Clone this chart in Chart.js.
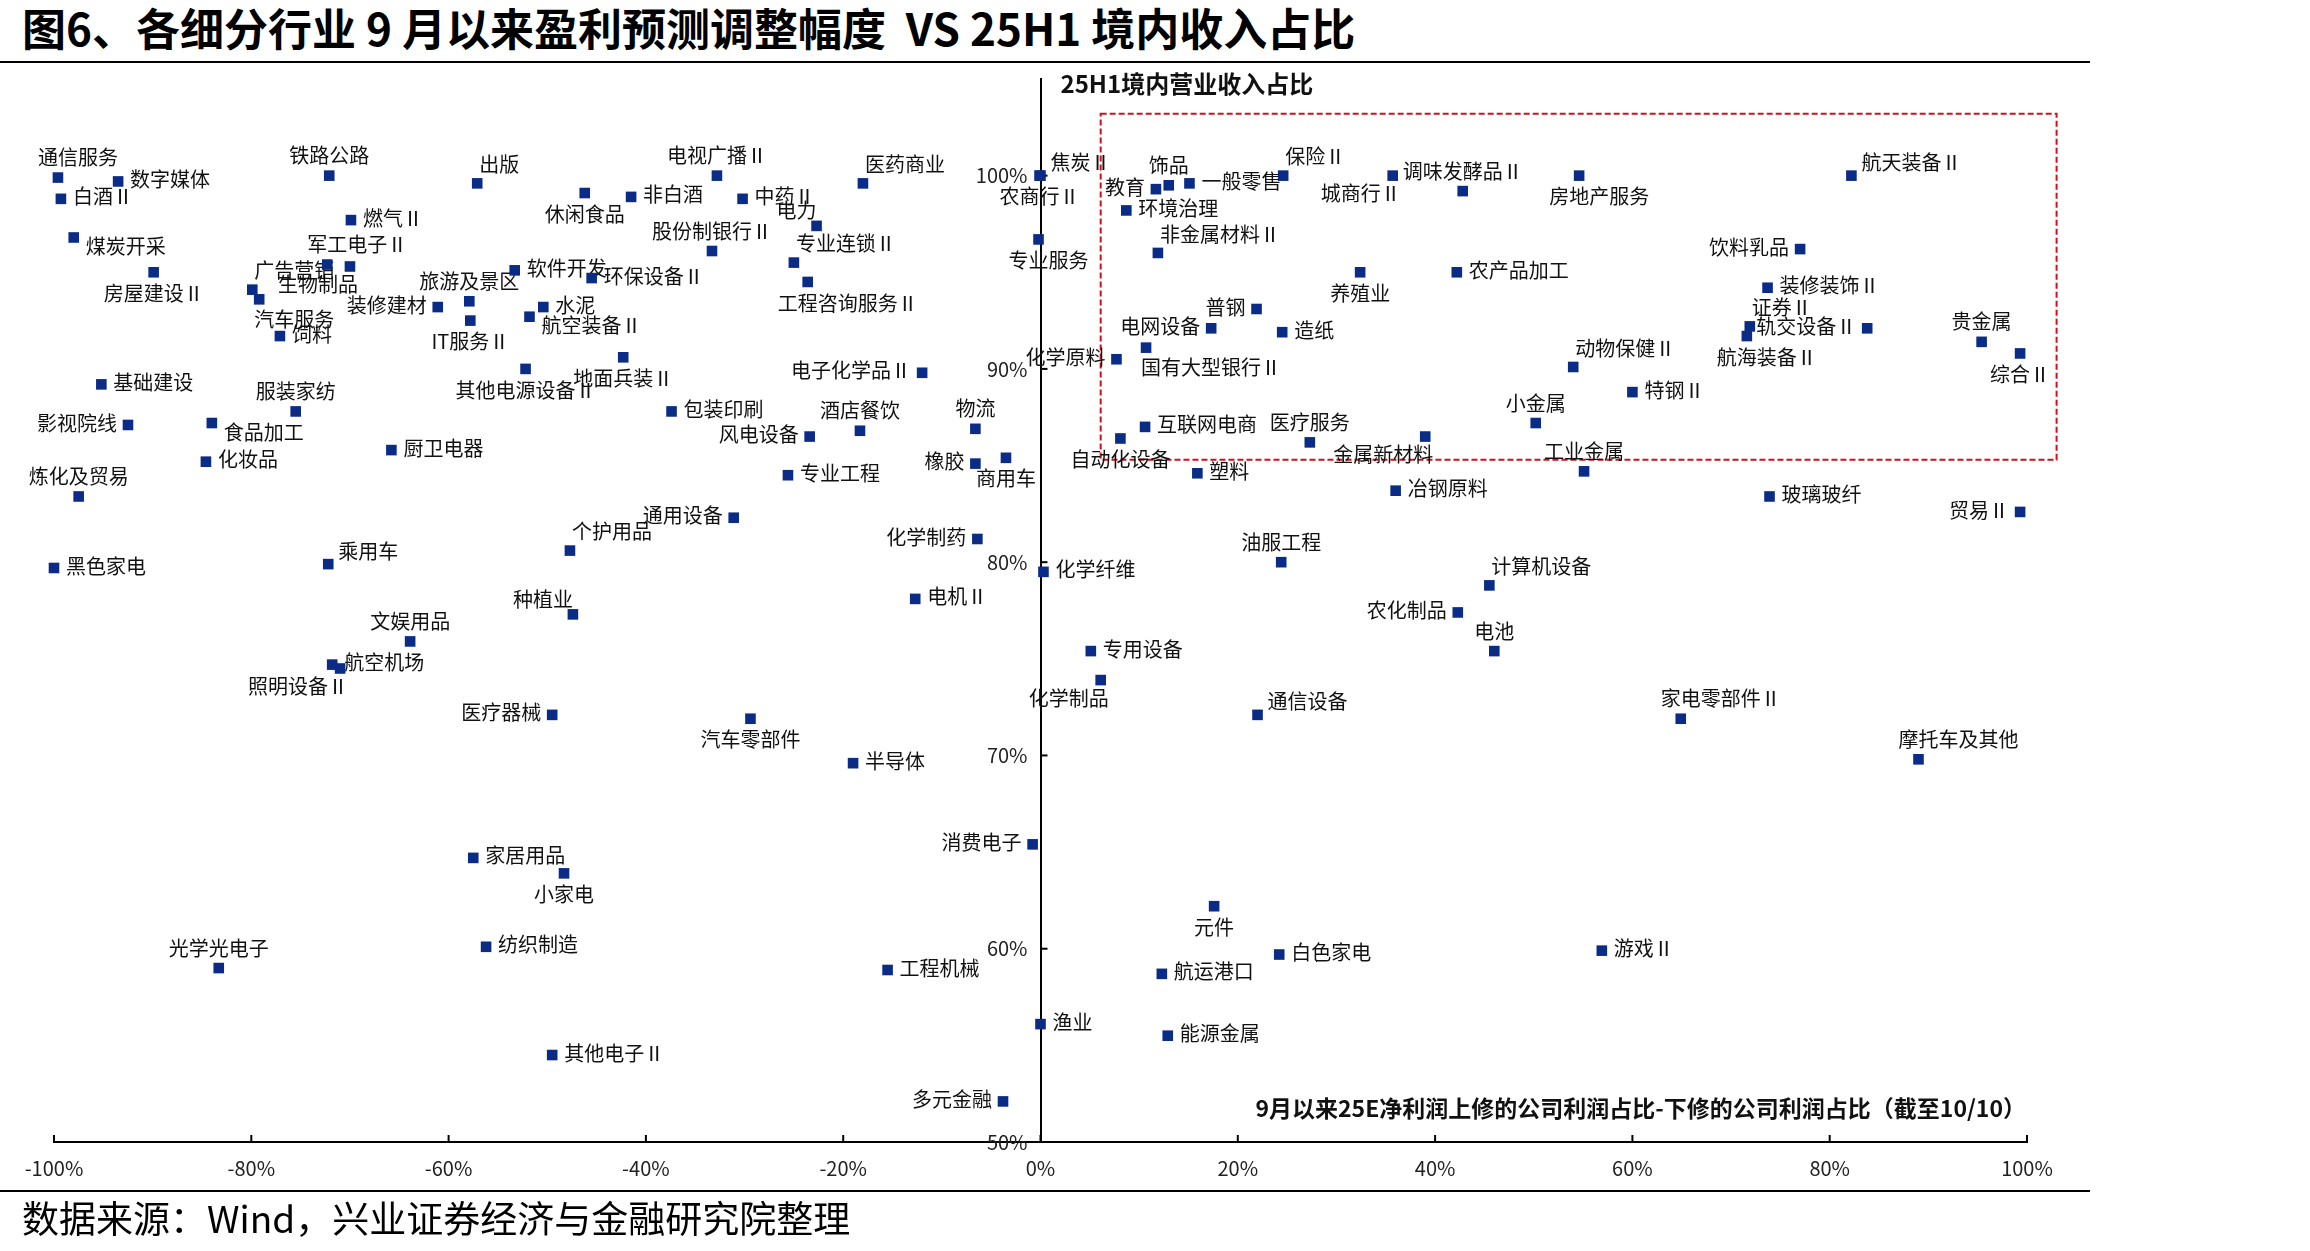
<!DOCTYPE html>
<html lang="zh">
<head>
<meta charset="utf-8">
<title>各细分行业9月以来盈利预测调整幅度 VS 25H1境内收入占比</title>
<script src="https://cdn.jsdelivr.net/npm/chart.js@4.4.1/dist/chart.umd.min.js"></script>
<style>
  html, body { margin: 0; padding: 0; background: #fff; }
  #wrap { position: relative; width: 2310px; height: 1251px; overflow: hidden; font-family: "Noto Sans CJK SC", sans-serif; }
  #title { position: absolute; left: 22px; top: 1px; font-size: 44px; line-height: 52px; font-weight: bold; color: #000; white-space: pre; }
  .rule { position: absolute; left: 0; width: 2090px; height: 2px; background: #000; }
  #source { position: absolute; left: 22px; top: 1195px; font-size: 37px; line-height: 44px; color: #000; white-space: pre; }
  canvas { position: absolute; left: 0; top: 0; }
</style>
</head>
<body>
<div id="wrap">
  <div id="title">图6、各细分行业 9 月以来盈利预测调整幅度  VS 25H1 境内收入占比</div>
  <div class="rule" style="top:61px"></div>
  <canvas id="scatterChart" width="2310" height="1251"></canvas>
  <div class="rule" style="top:1190px"></div>
  <div id="source">数据来源：Wind，兴业证券经济与金融研究院整理</div>
</div>
<script>
// industries, x = 9月以来25E净利润上修-下修占比 (%), y = 25H1境内营业收入占比 (%)
const industries = [
  '通信服务','数字媒体','白酒Ⅱ','铁路公路','出版','电视广播Ⅱ','休闲食品','非白酒','中药Ⅱ','医药商业',
  '焦炭Ⅱ','农商行Ⅱ','饰品','教育','一般零售','保险Ⅱ','环境治理','城商行Ⅱ','调味发酵品Ⅱ','房地产服务',
  '航天装备Ⅱ','燃气Ⅱ','煤炭开采','军工电子Ⅱ','生物制品','广告营销','汽车服务','饲料','电力','股份制银行Ⅱ',
  '专业连锁Ⅱ','工程咨询服务Ⅱ','非金属材料Ⅱ','专业服务','饮料乳品','房屋建设Ⅱ','旅游及景区','软件开发','环保设备Ⅱ','装修建材',
  'IT服务Ⅱ','水泥','航空装备Ⅱ','养殖业','农产品加工','装修装饰Ⅱ','普钢','电网设备','造纸','证券Ⅱ',
  '轨交设备Ⅱ','航海装备Ⅱ','贵金属','综合Ⅱ','化学原料','国有大型银行Ⅱ','动物保健Ⅱ','地面兵装Ⅱ','其他电源设备Ⅱ','电子化学品Ⅱ',
  '基础建设','服装家纺','特钢Ⅱ','小金属','包装印刷','酒店餐饮','物流','影视院线','食品加工','风电设备',
  '互联网电商','医疗服务','自动化设备','厨卫电器','金属新材料','工业金属','化妆品','橡胶','商用车','专业工程',
  '塑料','炼化及贸易','冶钢原料','玻璃玻纤','贸易Ⅱ','通用设备','个护用品','化学制药','油服工程','乘用车',
  '黑色家电','化学纤维','计算机设备','电机Ⅱ','种植业','农化制品','文娱用品','电池','专用设备','航空机场',
  '照明设备Ⅱ','化学制品','通信设备','家电零部件Ⅱ','医疗器械','汽车零部件','半导体','摩托车及其他','消费电子','家居用品',
  '小家电','元件','光学光电子','纺织制造','白色家电','游戏Ⅱ','工程机械','航运港口','渔业','能源金属',
  '其他电子Ⅱ','多元金融'
];

const revision = [
  -99.6, -93.5, -99.3, -72.1, -57.1, -32.8, -46.2, -41.5, -30.2, -18.0,
  0.0, -0.1, 13.0, 11.7, 15.1, 24.6, 8.7, 35.7, 42.8, 54.6,
  82.2, -69.9, -98.0, -72.3, -70.0, -79.9, -79.2, -77.1, -22.7, -33.3,
  -25.0, -23.6, 11.9, -0.2, 77.0, -89.9, -57.9, -53.3, -45.5, -61.1,
  -57.8, -50.4, -51.8, 32.4, 42.2, 73.7, 21.9, 17.3, 24.5, 71.9,
  83.8, 71.6, 95.4, 99.3, 7.7, 10.7, 54.0, -42.3, -52.2, -12.0,
  -95.2, -75.5, 60.0, 50.2, -37.4, -18.3, -6.6, -92.5, -84.0, -23.4,
  10.6, 27.3, 8.1, -65.8, 39.0, 55.1, -84.6, -6.6, -3.5, -25.6,
  15.9, -97.5, 36.0, 73.9, 99.3, -31.1, -47.7, -6.4, 24.4, -72.2,
  -100.0, 0.3, 45.5, -12.7, -47.4, 42.3, -63.9, 46.0, 5.1, -71.8,
  -71.0, 6.1, 22.0, 64.9, -49.5, -29.4, -19.0, 89.0, -0.8, -57.5,
  -48.3, 17.6, -83.3, -56.2, 24.2, 56.9, -15.5, 12.3, 0.0, 12.9,
  -49.5, -3.8
];

const domesticShare = [
  99.9, 99.7, 98.8, 100.0, 99.6, 100.0, 99.1, 98.9, 98.8, 99.6,
  100.0, 100.0, 99.5, 99.3, 99.6, 100.0, 98.2, 100.0, 99.2, 100.0,
  100.0, 97.7, 96.8, 95.4, 95.3, 94.1, 93.6, 91.7, 97.4, 96.1,
  95.5, 94.5, 96.0, 96.7, 96.2, 95.0, 93.5, 95.1, 94.7, 93.2,
  92.5, 93.2, 92.7, 95.0, 95.0, 94.2, 93.1, 92.1, 91.9, 92.2,
  92.1, 91.7, 91.4, 90.8, 90.5, 91.1, 90.1, 90.6, 90.0, 89.8,
  89.2, 87.8, 88.8, 87.2, 87.8, 86.8, 86.9, 87.1, 87.2, 86.5,
  87.0, 86.2, 86.4, 85.8, 86.5, 84.7, 85.2, 85.1, 85.4, 84.5,
  84.6, 83.4, 83.7, 83.4, 82.6, 82.3, 80.6, 81.2, 80.0, 79.9,
  79.7, 79.5, 78.8, 78.1, 77.3, 77.4, 75.9, 75.4, 75.4, 74.7,
  74.5, 73.9, 72.1, 71.9, 72.1, 71.9, 69.6, 69.8, 65.4, 64.7,
  63.9, 62.2, 59.0, 60.1, 59.7, 59.9, 58.9, 58.7, 56.1, 55.5,
  54.5, 52.1
];

const xTicks = [-100, -80, -60, -40, -20, 0, 20, 40, 60, 80, 100];
const yTicks = [50, 60, 70, 80, 90, 100];

const xTitle = '9月以来25E净利润上修的公司利润占比-下修的公司利润占比（截至10/10）';
const yTitle = '25H1境内营业收入占比';

// where each label sits around its marker (layout only)
const labelPos = [
  'tc','r','r','t','tr','t','b','r','r','tr',
  'ru','b','t','l','r','tr','r','bl','t','bc',
  'ru','r','rd','tc','bl','tr','br','r','tl','t',
  'tr','bc','tr','bc','l','b','t','r','r','l',
  'b','r','rd','b','r','r','l','l','r','tr',
  'l','bc','t','b','l','br','tr','b','b','l',
  'r','t','r','t','r','t','t','l','rd','l',
  'r','t','b','r','bl','t','r','l','b','r',
  'r','t','r','r','l','l','tr','l','t','ru',
  'r','r','tr','r','tl','l','t','t','r','r',
  'bl','bl','ru','tc','l','b','r','tc','l','r',
  'b','b','t','r','r','r','r','r','r','r',
  'r','l'
];

const LABEL_OFFSETS = {
  r:  ['left', 12, -2],
  l:  ['right', -11, -2],
  t:  ['center', 0, -20],
  b:  ['center', 0, 21],
  tr: ['left', 2, -19],
  tl: ['right', 0, -15],
  tc: ['left', -20, -20],
  br: ['left', -5, 20],
  bl: ['right', 8, 18],
  bc: ['left', -30, 21],
  ru: ['left', 10, -13],
  rd: ['left', 12, 9]
};

// highlighted zone, in data units
const zone = { x0: 6.1, x1: 103.0, y0: 85.3, y1: 103.2 };

const FONT = '"Noto Sans CJK SC", "Noto Sans", sans-serif';
const NAVY = '#0b2c86';

const pointLabels = {
  id: 'pointLabels',
  beforeDatasetsDraw(chart) {
    const { ctx, scales: { x, y } } = chart;
    ctx.save();
    // dashed red zone
    ctx.strokeStyle = '#d0101b';
    ctx.lineWidth = 2;
    ctx.setLineDash([6, 3]);
    const zx0 = x.getPixelForValue(zone.x0), zx1 = x.getPixelForValue(zone.x1);
    const zy0 = y.getPixelForValue(zone.y1), zy1 = y.getPixelForValue(zone.y0);
    ctx.strokeRect(zx0, zy0, zx1 - zx0, zy1 - zy0);
    ctx.setLineDash([]);

    // inward tick marks + y tick labels beside the crossing axis
    ctx.strokeStyle = '#000';
    ctx.lineWidth = 2;
    const x0 = x.getPixelForValue(0);
    const bottom = chart.chartArea.bottom;
    xTicks.forEach(v => {
      const px = x.getPixelForValue(v);
      ctx.beginPath(); ctx.moveTo(px, bottom); ctx.lineTo(px, bottom - 7); ctx.stroke();
    });
    ctx.font = '20px ' + FONT;
    ctx.fillStyle = '#222';
    ctx.textAlign = 'right';
    ctx.textBaseline = 'middle';
    yTicks.forEach(v => {
      const py = y.getPixelForValue(v);
      ctx.fillText(v + '%', x0 - 13, py);
      if (v === 50) return;
      ctx.beginPath(); ctx.moveTo(x0, py); ctx.lineTo(x0 + 7, py); ctx.stroke();
    });

    // point labels
    ctx.fillStyle = '#111';
    chart.getDatasetMeta(0).data.forEach((pt, i) => {
      const [align, dx, dy] = LABEL_OFFSETS[labelPos[i]];
      ctx.textAlign = align;
      ctx.fillText(industries[i], pt.x + dx, pt.y + dy);
    });

    // axis titles
    ctx.font = 'bold 24px ' + FONT;
    ctx.textAlign = 'left';
    ctx.fillText(yTitle, x0 + 20, chart.chartArea.top + 5);
    ctx.font = 'bold 23px ' + FONT;
    ctx.textAlign = 'right';
    ctx.fillText(xTitle, x.getPixelForValue(100) - 1, bottom - 34);
    ctx.restore();
  }
};

new Chart(document.getElementById('scatterChart'), {
  type: 'scatter',
  data: {
    datasets: [{
      label: '行业',
      data: industries.map((name, i) => ({ x: revision[i], y: domesticShare[i] })),
      pointStyle: 'rect',
      pointRadius: 7.5,
      pointHoverRadius: 7.5,
      backgroundColor: NAVY,
      borderColor: NAVY,
      borderWidth: 0,
      clip: false
    }]
  },
  plugins: [pointLabels],
  options: {
    responsive: false,
    devicePixelRatio: 1,
    animation: false,
    layout: { padding: { left: 54, right: 283, top: 79, bottom: 49 } },
    plugins: { legend: { display: false }, tooltip: { enabled: false } },
    scales: {
      x: {
        type: 'linear',
        position: 'bottom',
        min: -100,
        max: 100,
        afterBuildTicks: s => { s.ticks = xTicks.map(v => ({ value: v })); },
        afterFit: s => { s.height = 60; },
        grid: { display: false, drawTicks: false },
        border: { display: true, color: '#000', width: 2 },
        ticks: {
          autoSkip: false,
          maxRotation: 0,
          padding: 14,
          color: '#222',
          font: { family: FONT, size: 20 },
          callback: v => v + '%'
        }
      },
      y: {
        type: 'linear',
        position: { x: 0 },
        min: 50,
        max: 105,
        afterBuildTicks: s => { s.ticks = yTicks.map(v => ({ value: v })); },
        grid: { display: false, drawTicks: false },
        border: { display: true, color: '#000', width: 2 },
        ticks: { display: false }
      }
    }
  }
});
</script>
</body>
</html>
